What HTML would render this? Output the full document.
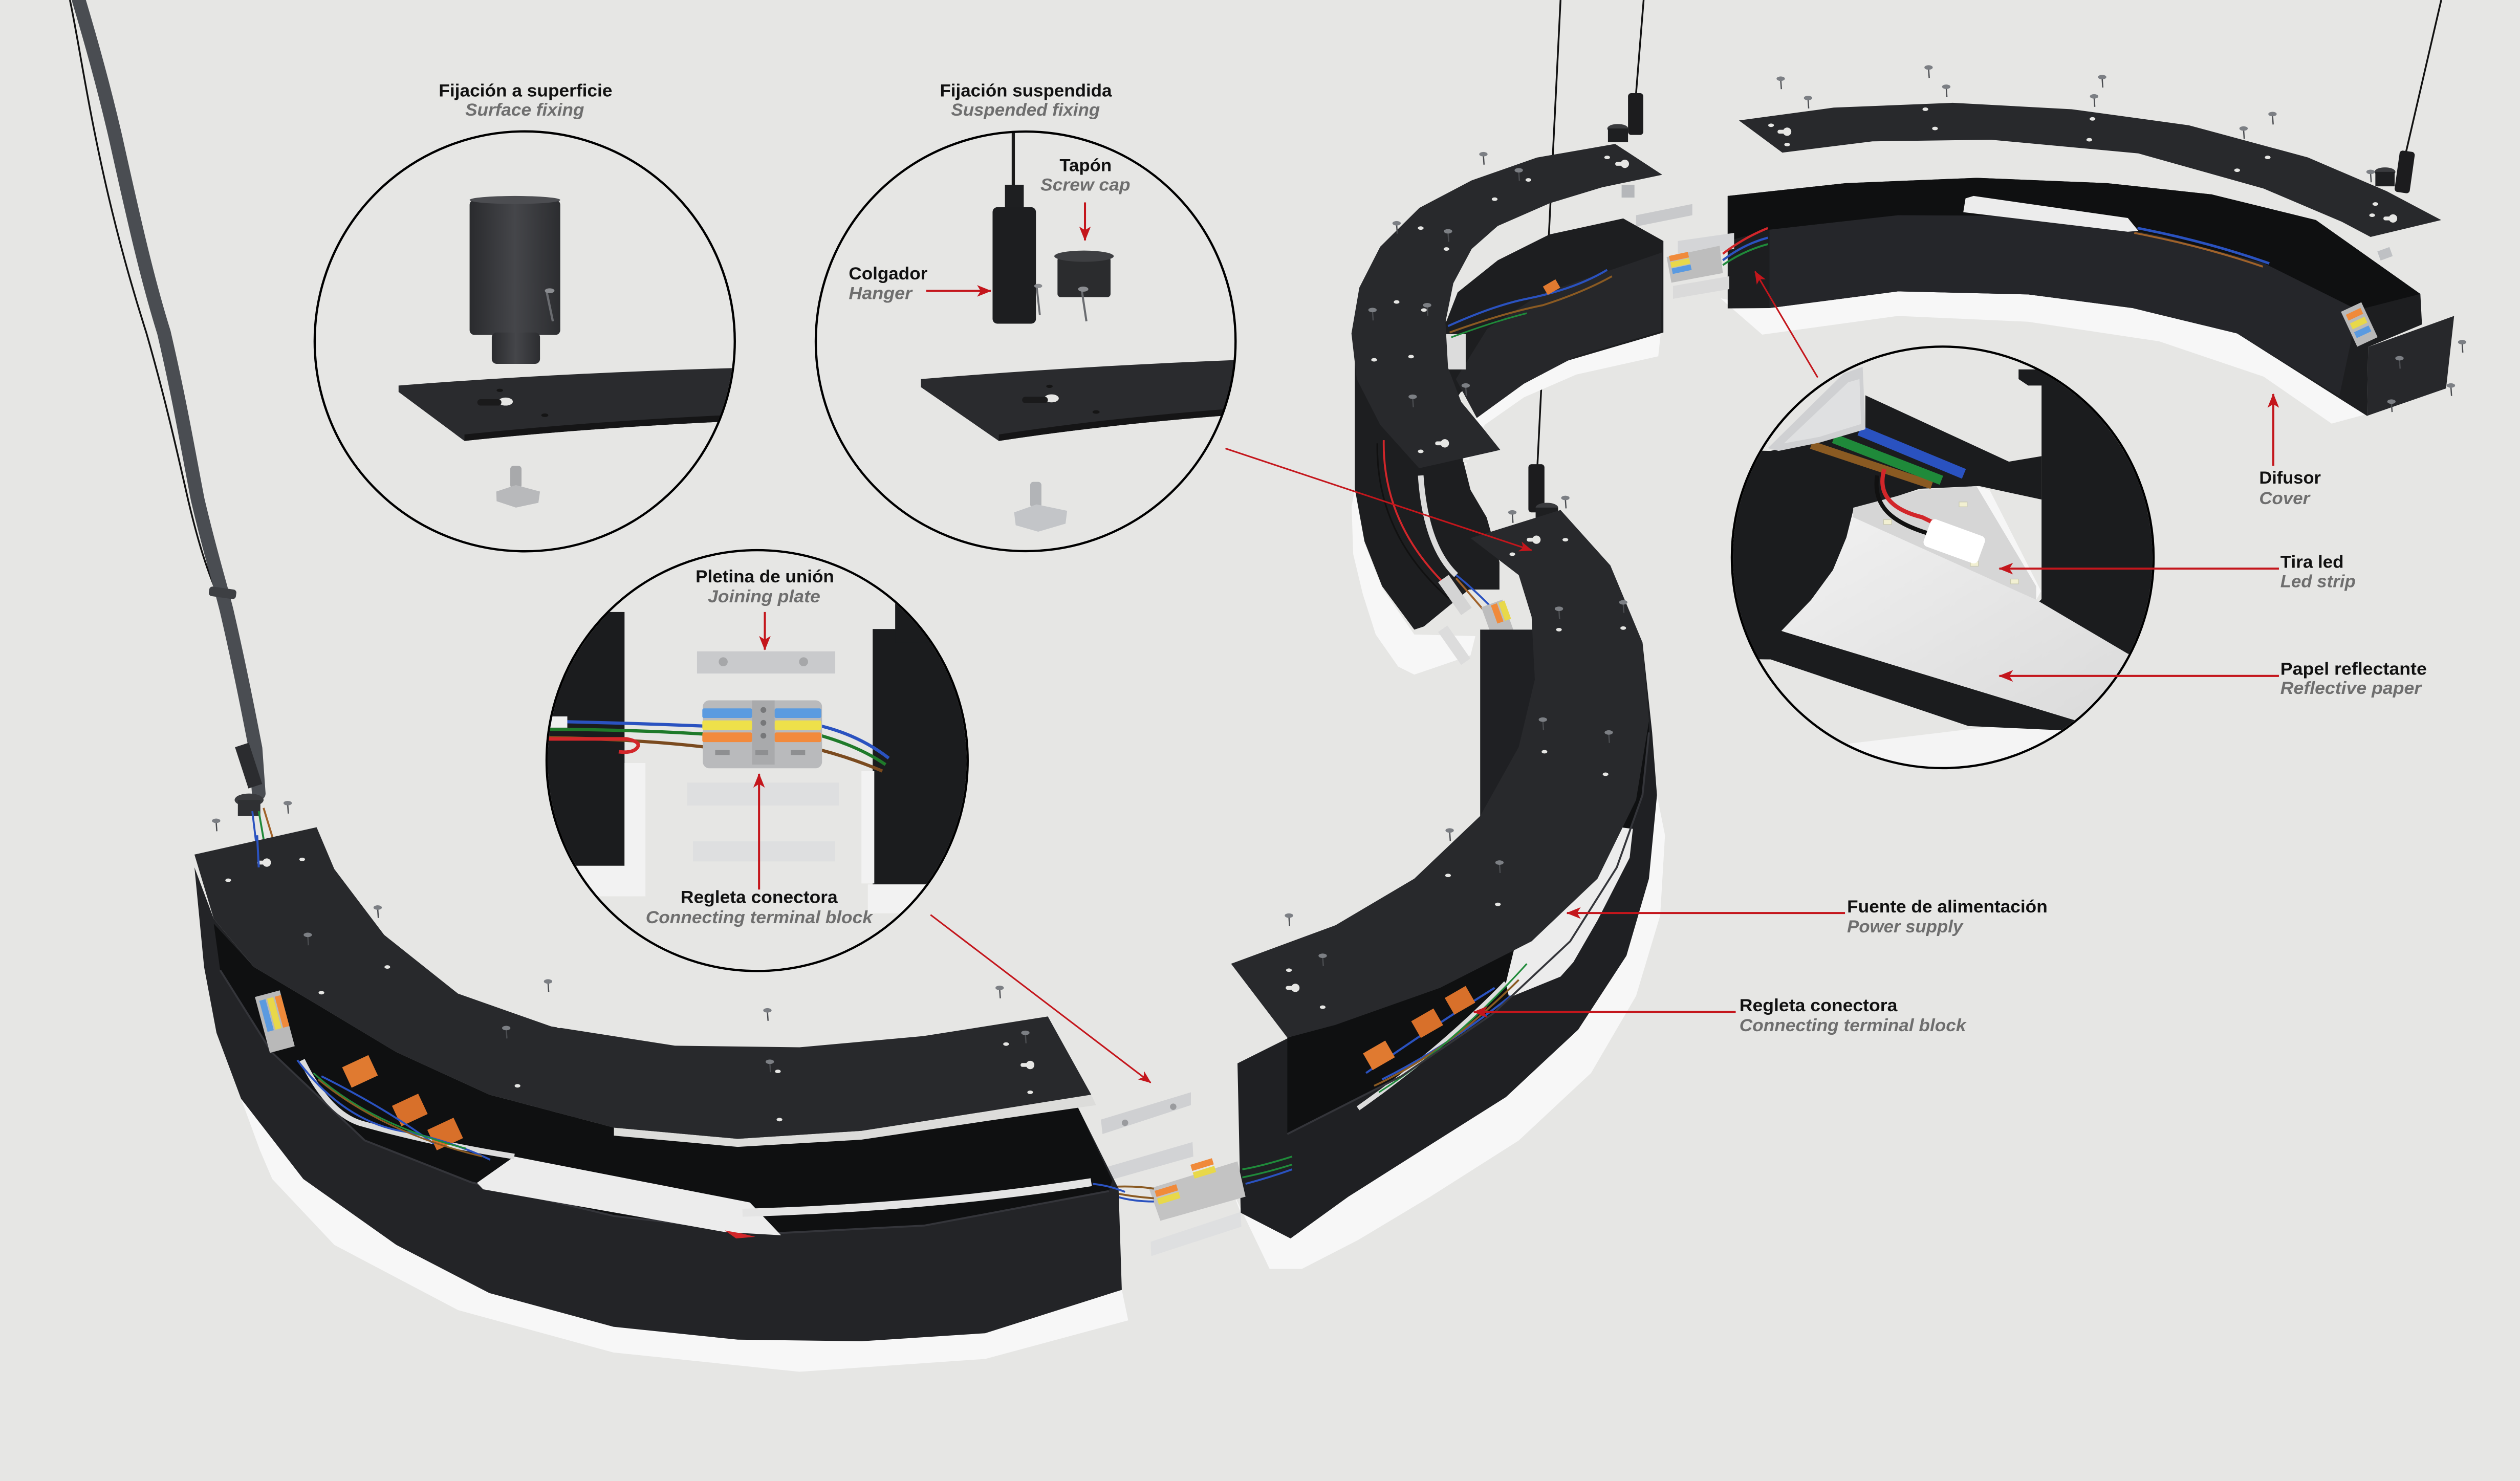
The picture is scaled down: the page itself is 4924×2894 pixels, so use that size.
<!DOCTYPE html>
<html><head><meta charset="utf-8">
<style>
html,body{margin:0;padding:0;background:#e6e6e4;}
svg{display:block;}
.b{font-family:"Liberation Sans",Arial,sans-serif;font-weight:bold;font-size:11px;fill:#111;}
.i{font-family:"Liberation Sans",Arial,sans-serif;font-weight:bold;font-style:italic;font-size:11px;fill:#6e6e6e;}
</style></head><body>
<svg width="4924" height="2894" viewBox="0 0 1568 922" preserveAspectRatio="none" xmlns="http://www.w3.org/2000/svg">
<defs>
 <marker id="ah" markerUnits="userSpaceOnUse" viewBox="0 0 10 8" refX="9.5" refY="4" markerWidth="9" markerHeight="7.2" orient="auto"><path d="M0,0 L10,4 L0,8 L2.5,4 Z" fill="#c4161c"/></marker>
 <marker id="ahs" markerUnits="userSpaceOnUse" viewBox="0 0 10 8" refX="9.5" refY="4" markerWidth="8" markerHeight="6.4" orient="auto"><path d="M0,0 L10,4 L0,8 L2.5,4 Z" fill="#c4161c"/></marker>
 <clipPath id="c1"><circle cx="326.5" cy="212.5" r="130"/></clipPath>
 <clipPath id="c2"><circle cx="638.2" cy="212.5" r="130"/></clipPath>
 <clipPath id="c3"><circle cx="471.1" cy="473.5" r="130.3"/></clipPath>
 <clipPath id="c4"><circle cx="1208.8" cy="347" r="130.5"/></clipPath>
 <g id="s"><line x1="0" y1="0.5" x2="0.4" y2="6.5" stroke="#4a4c50" stroke-width="0.8"/><ellipse cx="0" cy="0" rx="2.6" ry="1.4" fill="#7c7f84"/></g>
 <g id="h"><ellipse cx="0" cy="0" rx="1.8" ry="1.1" fill="#e6e6e4"/></g>
 <g id="k"><circle cx="0" cy="0" r="2.6" fill="#e6e6e4"/><rect x="-6" y="-1.2" width="6" height="2.4" rx="1.2" fill="#e6e6e4"/></g>
 <linearGradient id="cyl" x1="0" x2="1" y1="0" y2="0"><stop offset="0" stop-color="#2a2b2e"/><stop offset="0.5" stop-color="#45464a"/><stop offset="1" stop-color="#2c2d30"/></linearGradient>
 <linearGradient id="refl" x1="0" x2="1" y1="0" y2="1"><stop offset="0" stop-color="#f2f2f2"/><stop offset="0.6" stop-color="#e2e2e2"/><stop offset="1" stop-color="#d8d8d8"/></linearGradient>
</defs>
<rect x="0" y="0" width="1568" height="922" fill="#e6e6e4"/>

<!-- ===== left thick cable ===== -->
<path d="M43.5,0 C52,40 60,110 91,207 C102,245 110,280 117,311 C125,345 131,360 137,374" fill="none" stroke="#111" stroke-width="1.1"/>
<path d="M49,0 C58,30 66,60 72,86 C84,140 92,175 102,207 C112,250 117,280 123,311 C131,345 136,360 141,380 C148,410 154,440 159,466 L161,494" fill="none" stroke="#4a4d52" stroke-width="8.5" stroke-linecap="round"/>
<rect x="130" y="366" width="17" height="6" rx="2" fill="#3d3f43" transform="rotate(8 138 369)"/>
<rect x="150" y="463" width="9" height="27" fill="#2b2c2f" transform="rotate(-18 155 476)"/>
<ellipse cx="155" cy="498" rx="9" ry="4" fill="#3a3b3e"/>
<rect x="148" y="498" width="14" height="10" fill="#2f3033"/>
<path d="M157,505 L160,530" stroke="#2a52c0" stroke-width="1.2" fill="none"/>
<path d="M161,505 L165,528" stroke="#1f8a3a" stroke-width="1.2" fill="none"/>
<path d="M164,503 L171,526" stroke="#a0622a" stroke-width="1.2" fill="none"/>

<!-- ===== suspension cables ===== -->
<line x1="971" y1="0" x2="956.5" y2="292" stroke="#111" stroke-width="1.1"/>
<rect x="951" y="289" width="10" height="30" rx="2" fill="#1c1c1e"/>
<ellipse cx="962.5" cy="316" rx="7" ry="3" fill="#3a3b3e"/><rect x="955.5" y="316" width="14" height="8" fill="#1e1f21"/>
<line x1="1022.7" y1="0" x2="1018" y2="58" stroke="#111" stroke-width="1.1"/>
<rect x="1013" y="58" width="9.5" height="26" rx="2" fill="#1c1c1e"/>
<ellipse cx="1006.6" cy="80" rx="6.5" ry="2.8" fill="#3a3b3e"/><rect x="1000.5" y="80" width="12.5" height="8.5" fill="#1e1f21"/>
<line x1="1519" y1="0" x2="1497" y2="95" stroke="#111" stroke-width="1.1"/>
<rect x="1491.5" y="94" width="9.5" height="26" rx="2" fill="#1c1c1e" transform="rotate(8 1496 107)"/>
<ellipse cx="1484" cy="107" rx="6.5" ry="2.8" fill="#3a3b3e"/><rect x="1478" y="107" width="12" height="9" fill="#1e1f21"/>

<!-- ===== upper-right assembly ===== -->
<path d="M1070.5,185.7 L1096.5,208.3 L1181,196.7 L1262,200.3 L1343.5,212.5 L1408.5,234.5 L1450.8,263.7 L1473.5,257.6 L1454,247 L1392,207.6 L1327,191.8 L1262,183.3 L1181,181.4 L1101,191.8 Z" fill="#f7f7f7"/>
<path d="M1075,122 L1148.5,114 L1230,110.7 L1311,114 L1376,121 L1441,137 L1506,183 L1507,202 L1473.5,216 L1473,259 L1454,247 L1392,207.6 L1327,191.8 L1262,183.3 L1181,181.4 L1101,191.8 L1075,192 Z" fill="#1d1e20"/>
<path d="M1075,122 L1148.5,114 L1230,110.7 L1311,114 L1376,121 L1441,137 L1506,183 L1467,193 L1408.5,164 L1343.5,147 L1278.5,134.5 L1181,134 L1101,143 L1075,150 Z" fill="#0f1011"/>
<path d="M1101,143 L1181,134 L1278.5,134.5 L1343.5,146.7 L1408.5,163.8 L1467,193 L1455.6,246.7 L1392,207.6 L1327,191.8 L1262,183.3 L1181,181.4 L1101,191.8 Z" fill="#25262a"/>
<path d="M1223,123.5 L1228,122 L1324,135.7 L1330.5,143.7 L1324,144.3 L1221.6,132.1 Z" fill="#ececec"/>
<path d="M1330,142 Q1372,150 1412,164" stroke="#2a52c0" stroke-width="1.6" fill="none"/>
<path d="M1328,145 Q1370,153 1408,166" stroke="#a0622a" stroke-width="1.2" fill="none"/>
<rect x="1461" y="190" width="14" height="24" fill="#b9b9b9" transform="rotate(-25 1468 202)"/>
<rect x="1463" y="193" width="10" height="4" fill="#f08a3a" transform="rotate(-25 1468 202)"/>
<rect x="1463" y="199" width="10" height="4" fill="#e8d84a" transform="rotate(-25 1468 202)"/>
<rect x="1463" y="205" width="10" height="4" fill="#5a9ae0" transform="rotate(-25 1468 202)"/>
<path d="M1473.5,216 L1527,196.7 L1522,241.8 L1473,258.8 Z" fill="#27282b"/>
<use href="#s" x="1532" y="213"/><use href="#s" x="1493" y="223"/><use href="#s" x="1525" y="240"/><use href="#s" x="1488" y="250"/>
<!-- Difusor cover plate -->
<path d="M1082,75 L1141,67 L1215,64 L1289,68 L1362,78 L1436,98 L1485,119 L1519,137 L1475,147.5 L1457,138 L1408.5,117.4 L1330.5,95.5 L1239,87 L1165,88 L1109,95 Z" fill="#28292c"/>
<use href="#k" x="1112" y="82"/><use href="#k" x="1489" y="136"/>
<use href="#h" x="1102" y="78"/><use href="#h" x="1112" y="90"/><use href="#h" x="1198" y="68"/><use href="#h" x="1204" y="80"/><use href="#h" x="1302" y="74"/><use href="#h" x="1300" y="87"/><use href="#h" x="1411" y="98"/><use href="#h" x="1392" y="106"/><use href="#h" x="1478" y="127"/><use href="#h" x="1476" y="134"/>
<use href="#s" x="1108" y="49"/><use href="#s" x="1125" y="61"/><use href="#s" x="1200" y="42"/><use href="#s" x="1211" y="54"/><use href="#s" x="1308" y="48"/><use href="#s" x="1303" y="60"/><use href="#s" x="1414" y="71"/><use href="#s" x="1396" y="80"/><use href="#s" x="1475" y="107"/>
<rect x="1480" y="155" width="8" height="6" fill="#bfc1c4" transform="rotate(-20 1484 158)"/>

<!-- upper gap connector -->
<rect x="1009" y="115" width="8" height="8" fill="#b5b7ba"/>
<path d="M1018,134 L1053,127 L1053,134 L1018,141 Z" fill="#c8c9cb"/>
<path d="M1044,150 L1079,145 L1079,155 L1044,160 Z" fill="#d4d5d7"/>
<path d="M1037,160 L1070,153 L1072,170 L1040,176 Z" fill="#bdbdbd"/>
<rect x="1040" y="156" width="12" height="3.5" fill="#f08a3a" transform="rotate(-12 1055 165)"/>
<rect x="1040" y="160" width="12" height="3.5" fill="#e8d84a" transform="rotate(-12 1055 165)"/>
<rect x="1040" y="164" width="12" height="3.5" fill="#5a9ae0" transform="rotate(-12 1055 165)"/>
<path d="M1041,178 L1076,172 L1076,180 L1041,186 Z" fill="#dadada"/>
<path d="M1072,162 Q1085,152 1100,148" stroke="#2a52c0" stroke-width="1.4" fill="none"/>
<path d="M1072,158 Q1085,148 1100,142" stroke="#d2262a" stroke-width="1.4" fill="none"/>
<path d="M1072,165 Q1085,156 1100,152" stroke="#1f8a3a" stroke-width="1.2" fill="none"/>

<!-- ===== upper-left arc body (S top) ===== -->
<path d="M1033.5,206 L980.7,221.8 L948.2,238.9 L918.9,260.2 L904,264 L912,290 L923.8,264.5 L948.2,247.4 L980.7,233.2 L1031.8,221.8 Z" fill="#f7f7f7"/>
<path d="M841,315 L842,345 L848,370 L856,395 L870,415 L880,420 L915,408 L918,396 L880,395 L860,366 L849,338 L843,305 Z" fill="#f7f7f7"/>
<path d="M843,210 L843,304 L849,337 L860,365 L880,392 L886,390 L914,367 L933,367 L933,350 L925,322 L915,305 L910,285 L905,250 L909,244 L1035,207 L1035,150 L1010,136 L964,146 L932,162 L907,182 L900,200 Z" fill="#1d1e20"/>
<path d="M905.9,236 L918.9,260.2 L948.2,238.9 L980.7,221.8 L1033.5,206.2 L1034.3,157.1 L957.9,183.4 L925.4,204.7 Z" fill="#26272a"/>
<rect x="899" y="208" width="13" height="22" fill="#dcdcdc"/>
<path d="M884,296 Q887,340 906,358" stroke="#dcdcdc" stroke-width="3.5" fill="none"/>
<path d="M861,274 Q860,330 907,371" stroke="#d2262a" stroke-width="1.2" fill="none"/>
<path d="M857,276 Q856,333 902,373" stroke="#111" stroke-width="1" fill="none"/>
<path d="M906,358 Q915,365 928,378" stroke="#2a52c0" stroke-width="1.2" fill="none"/>
<path d="M906,360 Q913,368 925,382" stroke="#a0622a" stroke-width="1.2" fill="none"/>
<path d="M901,203 Q930,190 950,186 Q980,180 1000,168" stroke="#2a52c0" stroke-width="1.3" fill="none"/>
<path d="M902,207 Q935,195 960,190 Q985,182 1003,172" stroke="#8a5a22" stroke-width="1.2" fill="none"/>
<path d="M903,210 Q930,200 950,195" stroke="#1f8a3a" stroke-width="1" fill="none"/>
<rect x="961" y="176" width="9" height="6" fill="#e07a30" transform="rotate(-30 965 179)"/>
<!-- joining plates in S middle -->
<rect x="893" y="366" width="25" height="8" fill="#d4d4d4" transform="rotate(55 905 370)"/>
<rect x="893" y="398" width="25" height="7" fill="#dcdcdc" transform="rotate(55 905 401)"/>
<rect x="925" y="375" width="14" height="22" fill="#bdbdbd" transform="rotate(-20 932 386)"/>
<rect x="931" y="376" width="4" height="12" fill="#f08a3a" transform="rotate(-20 932 386)"/>
<rect x="936" y="376" width="4" height="12" fill="#e8d84a" transform="rotate(-20 932 386)"/>
<!-- upper-left plate -->
<path d="M1005,89.6 L1034.3,108.8 L996.9,116.6 L964.4,126.5 L931.9,140.7 L915.7,155 L904.3,176.3 L899.4,200.5 L901,228.9 L909.2,250.2 L922.2,265.9 L933.5,280.1 L883,291.5 L858.8,264.5 L844.2,236 L840.9,207.6 L845.8,179.1 L858.8,153.6 L883.2,129.4 L915.7,112.3 L956.3,98.1 Z" fill="#28292c"/>
<use href="#k" x="1011" y="102"/><use href="#k" x="899" y="276"/>
<use href="#h" x="1000" y="98"/><use href="#h" x="951" y="112"/><use href="#h" x="930" y="124"/><use href="#h" x="884" y="142"/><use href="#h" x="900" y="155"/><use href="#h" x="869" y="188"/><use href="#h" x="886" y="193"/><use href="#h" x="855" y="224"/><use href="#h" x="878" y="222"/><use href="#h" x="884" y="281"/><use href="#h" x="912" y="287"/>
<use href="#s" x="923" y="96"/><use href="#s" x="945" y="106"/><use href="#s" x="869" y="139"/><use href="#s" x="901" y="144"/><use href="#s" x="854" y="193"/><use href="#s" x="888" y="190"/><use href="#s" x="879" y="247"/><use href="#s" x="912" y="240"/>

<!-- ===== middle lower assembly ===== -->
<path d="M803,771 L839,745 L880,719 L937,683 L982,641 L1012,595 L1026,547 L1031,495 L1036,520 L1033,570 L1018,620 L990,668 L945,710 L890,745 L845,772 L810,790 L790,790 L767,742 L772,755 Z" fill="#f7f7f7"/>
<path d="M921,392 L1000,392 L1022,400 L1028,456 L1031,495 L1026,547 L1012,595 L982,641 L937,683 L880,719 L839,745 L803,771 L772,755 L770,662 L830,632 L880,600 L915,560 L921,520 Z" fill="#1f2023"/>
<path d="M801,646 L831,638 L896,615 L953,586 L994,547 L1018,498 L1026,449 L1026,456 L1022,495 L1006,540 L977,586 L929,631 L872,670 L801,706 Z" fill="#0f1011"/>
<path d="M1000,514 L1016,516 L1014,534 L994,573 L979,599 L971,608 L939,621 L937,612 L945,579 L965,566 L990,534 Z" fill="#ececec"/>
<path d="M845,690 Q895,655 937,612" stroke="#dcdcdc" stroke-width="3" fill="none"/>
<path d="M850,668 Q890,640 930,615 M860,672 Q900,652 940,620" stroke="#2a52c0" stroke-width="1.3" fill="none"/>
<path d="M855,676 Q900,655 945,610" stroke="#8a5a22" stroke-width="1.2" fill="none"/>
<path d="M858,680 Q905,650 950,600" stroke="#1f8a3a" stroke-width="1" fill="none"/>
<rect x="850" y="651" width="16" height="12" fill="#e07a30" transform="rotate(-30 858 657)"/>
<rect x="880" y="631" width="16" height="12" fill="#d8702a" transform="rotate(-30 888 637)"/>
<rect x="901" y="617" width="15" height="12" fill="#d8702a" transform="rotate(-30 908 623)"/>
<path d="M801,706 L872,670 L929,631 L977,586 L1006,540 L1022,495 L1026,456" stroke="#34353a" stroke-width="1.2" fill="none"/>
<!-- middle lower plate -->
<path d="M915,335 L971,317.5 L1002,352 L1022,400 L1026,449 L1018,498 L994,547 L953,586 L896,615 L831,638 L801,646 L766,600 L831,576 L880,547 L921,508 L945,465 L955,423 L953,384 L945,358 Z" fill="#28292c"/>
<use href="#k" x="956" y="336"/><use href="#k" x="806" y="615"/>
<use href="#h" x="941" y="345"/><use href="#h" x="974" y="336"/><use href="#h" x="970" y="392"/><use href="#h" x="1010" y="391"/><use href="#h" x="961" y="468"/><use href="#h" x="999" y="482"/><use href="#h" x="901" y="545"/><use href="#h" x="932" y="563"/><use href="#h" x="802" y="604"/><use href="#h" x="823" y="627"/>
<use href="#s" x="941" y="319"/><use href="#s" x="974" y="310"/><use href="#s" x="970" y="379"/><use href="#s" x="1010" y="375"/><use href="#s" x="960" y="448"/><use href="#s" x="1001" y="456"/><use href="#s" x="902" y="517"/><use href="#s" x="933" y="537"/><use href="#s" x="802" y="570"/><use href="#s" x="823" y="595"/>

<!-- bottom middle connector -->
<path d="M685,697 L741,680 L741,688 L686,706 Z" fill="#cfd0d2"/>
<circle cx="700" cy="699" r="2" fill="#9a9b9e"/><circle cx="730" cy="689" r="2" fill="#9a9b9e"/>
<path d="M687,727 L742,711 L742.5,720 L687.6,735.6 Z" fill="#d2d3d5"/>
<path d="M715,740 L770,723 L775,745 L722,760 Z" fill="#c3c3c3"/>
<rect x="719" y="735" width="14" height="4" fill="#f08a3a" transform="rotate(-17 740 740)"/>
<rect x="719" y="740" width="14" height="4" fill="#e8d84a" transform="rotate(-17 740 740)"/>
<rect x="745" y="726" width="14" height="4" fill="#f08a3a" transform="rotate(-17 740 740)"/>
<rect x="745" y="731" width="14" height="4" fill="#e8d84a" transform="rotate(-17 740 740)"/>
<path d="M716,773 L772,754.5 L772.4,763.7 L716.3,782 Z" fill="#dedfe0"/>
<path d="M690,739 Q705,738 718,740 M695,743 Q705,745 718,746" stroke="#8a5a22" stroke-width="1.2" fill="none"/>
<path d="M695,745 Q705,748 718,748" stroke="#2a52c0" stroke-width="1.2" fill="none"/>
<path d="M773,728 Q785,726 804,720 M773,733 Q788,730 804,725" stroke="#1f8a3a" stroke-width="1.1" fill="none"/>
<path d="M775,737 Q790,733 804,728" stroke="#2a52c0" stroke-width="1.2" fill="none"/>

<!-- ===== bottom-left assembly ===== -->
<path d="M150,684 L161.7,716 L169.4,734 L208,775 L285,815.6 L381.7,842 L497.5,854 L613,846 L702,822 L698,803 L613,830 L536,835 L459,834 L381.7,826 L304.5,805 L246.6,775 L188.7,734 Z" fill="#f7f7f7"/>
<path d="M121,540 L127,602 L134.7,643 L150,684 L188.7,734 L246.6,775 L304.5,805 L381.7,826 L459,834 L536,835 L613,830 L698,803 L696,740 L670,688 L613,692 L536,704 L459,709 L382,702 L304.5,681.5 L246.6,655 L200,627 L158,602 L133,572 Z" fill="#232427"/>
<path d="M133,575 L137,604 L169,655 L227,710 L293,736 L382,757 L478,768 L575,763 L690,741.5 L692,735 L670,688 L613,692 L536,704 L459,709 L382,702 L304.5,681.5 L246.6,655 L200,627 L158,602 Z" fill="#0f1011"/>
<path d="M137,604 L169,655 L227,710 L293,736 L382,757 L478,768 L575,763 L690,741.5" stroke="#34353a" stroke-width="1.2" fill="none"/>
<path d="M296.8,736.4 L320,720 L466.6,748.6 L486,769 L451,767 L300.6,740.4 Z" fill="#ececec"/>
<path d="M451,766 L462,768 L470,770 L458,771 Z" fill="#d2262a"/>
<path d="M462,755 Q575,752 679,736" stroke="#e4e4e4" stroke-width="5" fill="none"/>
<path d="M188,660 Q205,695 227,700 Q270,712 320,720" stroke="#dcdcdc" stroke-width="3.5" fill="none"/>
<rect x="163" y="618" width="16" height="36" fill="#b9b9b9" transform="rotate(-15 171 636)"/>
<rect x="165" y="621" width="4" height="20" fill="#5a9ae0" transform="rotate(-15 171 636)"/>
<rect x="170" y="621" width="4" height="20" fill="#e8d84a" transform="rotate(-15 171 636)"/>
<rect x="175" y="621" width="4" height="20" fill="#f08a3a" transform="rotate(-15 171 636)"/>
<rect x="215" y="660" width="18" height="14" fill="#e07a30" transform="rotate(-25 224 667)"/>
<rect x="246" y="684" width="18" height="14" fill="#d8702a" transform="rotate(-25 255 691)"/>
<rect x="268" y="699" width="18" height="14" fill="#d8702a" transform="rotate(-25 277 706)"/>
<path d="M185,660 Q215,700 255,705 Q285,712 305,722 M200,670 Q240,690 270,712" stroke="#2a52c0" stroke-width="1.2" fill="none"/>
<path d="M195,668 Q230,700 290,715" stroke="#1f8a3a" stroke-width="1" fill="none"/>
<path d="M198,672 Q238,705 300,720" stroke="#8a5a22" stroke-width="1" fill="none"/>
<path d="M680,737 Q690,738 700,742" stroke="#2a52c0" stroke-width="1.2" fill="none"/>
<!-- gap below plate -->
<path d="M382,702 L459,709 L536,704 L613,692 L679,681.5 L682,688 L613,698 L536,709.5 L459,714 L382,707 Z" fill="#dcdcda"/>
<!-- bottom-left plate -->
<path d="M121,532 L197,515 L208,541 L239,582 L285,618.6 L343,639 L420,651 L497.5,652 L574.7,645 L652,632.8 L679,681.5 L613,692 L536,704 L459,709 L382,702 L304.5,681.5 L246.6,655 L200,627 L158,602 L133,572 Z" fill="#28292c"/>
<use href="#k" x="166" y="537"/><use href="#k" x="641" y="663"/>
<use href="#h" x="142" y="548"/><use href="#h" x="188" y="535"/><use href="#h" x="241" y="602"/><use href="#h" x="200" y="618"/><use href="#h" x="348" y="639"/><use href="#h" x="322" y="676"/><use href="#h" x="484" y="667"/><use href="#h" x="485" y="697"/><use href="#h" x="626" y="650"/><use href="#h" x="641" y="680"/>
<use href="#s" x="134.5" y="511"/><use href="#s" x="179" y="500"/><use href="#s" x="235" y="565"/><use href="#s" x="191.5" y="582"/><use href="#s" x="341" y="611"/><use href="#s" x="315" y="640"/><use href="#s" x="477.5" y="629"/><use href="#s" x="479" y="661"/><use href="#s" x="622" y="615"/><use href="#s" x="638" y="643"/>
<path d="M160,520 L161,540" stroke="#2a52c0" stroke-width="1.3"/>

<!-- ===== circle 1: surface fixing ===== -->
<g clip-path="url(#c1)">
 <path d="M248,240 Q350,232 462,229 L462,262 Q370,266 289,274.5 L248,244 Z" fill="#2a2b2e"/>
 <path d="M289,270.5 Q370,262 462,258 L462,262 Q370,266 289,274.5 Z" fill="#151516"/>
</g>
<ellipse cx="314.6" cy="250" rx="4.5" ry="2.5" fill="#e6e6e4"/>
<rect x="297" y="248.5" width="15" height="4" rx="2" fill="#1a1a1b"/>
<ellipse cx="311" cy="243" rx="2" ry="1" fill="#151515"/><ellipse cx="339" cy="258.5" rx="2.2" ry="1.1" fill="#151515"/>
<rect x="292.2" y="124.5" width="56.4" height="84" rx="3" fill="url(#cyl)"/>
<ellipse cx="320.4" cy="124.5" rx="28.2" ry="2.5" fill="#4c4d51"/>
<rect x="306" y="207" width="30" height="19.5" rx="3" fill="url(#cyl)"/>
<path d="M340,181 L344,200" stroke="#6a6c70" stroke-width="1.4"/><ellipse cx="342" cy="181" rx="3" ry="1.5" fill="#8a8c90"/>
<rect x="317.5" y="290" width="7" height="14" rx="2" fill="#a8a9ab"/>
<path d="M308.8,306 L321,302 L336,306 L335,313 L321,316 L309,312 Z" fill="#b8b9bb"/>

<!-- ===== circle 2: suspended fixing ===== -->
<g clip-path="url(#c2)">
 <path d="M573,236 Q670,228 772,224 L772,258 Q690,264 621.5,274.5 L573,241 Z" fill="#2a2b2e"/>
 <path d="M621.5,270.5 Q690,260 772,254 L772,258 Q690,264 621.5,274.5 Z" fill="#151516"/>
 <line x1="630.5" y1="80" x2="630.5" y2="116" stroke="#1a1a1a" stroke-width="2"/>
</g>
<ellipse cx="654.3" cy="248" rx="4.5" ry="2.5" fill="#e6e6e4"/>
<rect x="636" y="247" width="16" height="4" rx="2" fill="#1a1a1b"/>
<ellipse cx="653" cy="240.5" rx="2" ry="1" fill="#151515"/><ellipse cx="682" cy="256.5" rx="2.2" ry="1.1" fill="#151515"/>
<rect x="625.3" y="115" width="11.7" height="15" fill="#1e1f21"/>
<rect x="617.6" y="129" width="27" height="72.5" rx="3" fill="#1d1e20"/>
<path d="M645,178 L647,196" stroke="#6a6c70" stroke-width="1.2"/><ellipse cx="646" cy="178" rx="2.5" ry="1.3" fill="#8a8c90"/>
<rect x="658" y="160" width="33" height="25" rx="2" fill="#2b2c2e"/>
<ellipse cx="674.5" cy="159.5" rx="18.5" ry="3.5" fill="#3e3f42"/>
<path d="M673,180 L676,200" stroke="#6a6c70" stroke-width="1.3"/><ellipse cx="674" cy="180" rx="3.2" ry="1.6" fill="#8a8c90"/>
<rect x="641" y="300" width="7" height="16" rx="2" fill="#b2b4b7"/>
<path d="M631,319 L645,314 L664,318 L663,326 L646,331 L632,327 Z" fill="#c3c5c8"/>

<!-- ===== circle 3: joining ===== -->
<g clip-path="url(#c3)">
 <rect x="330" y="381" width="58.6" height="158" fill="#1b1c1e"/>
 <rect x="388.6" y="475" width="13" height="83" fill="#f2f2f2"/>
 <rect x="350" y="539" width="44" height="19" fill="#f2f2f2"/>
 <rect x="543" y="391.6" width="70" height="159" fill="#1b1c1e"/>
 <rect x="557" y="370" width="56" height="30" fill="#1b1c1e"/>
 <rect x="536" y="480" width="8" height="70" fill="#f2f2f2"/>
 <rect x="540" y="550.6" width="36" height="18" fill="#f2f2f2"/>
 <path d="M335,449 Q390,450 438,452" stroke="#2a52c0" stroke-width="2" fill="none"/>
 <path d="M335,454 Q390,454 438,457" stroke="#1f7a2a" stroke-width="2" fill="none"/>
 <path d="M335,459 Q395,460 438,465" stroke="#7a4a1e" stroke-width="2" fill="none"/>
 <path d="M335,460 L390,460 Q400,462 396,466 Q393,469 385,468" stroke="#d2262a" stroke-width="2.2" fill="none"/>
 <rect x="341" y="446" width="12" height="7" fill="#f0f0f0"/>
 <path d="M511,452 Q535,458 553,472" stroke="#2a52c0" stroke-width="2" fill="none"/>
 <path d="M511,458 Q535,465 551,476" stroke="#1f7a2a" stroke-width="2" fill="none"/>
 <path d="M511,467 Q530,472 549,480" stroke="#7a4a1e" stroke-width="2" fill="none"/>
</g>
<rect x="433.7" y="405.5" width="86" height="13.8" fill="#c9cacc"/>
<circle cx="450" cy="412" r="2.8" fill="#a6a7a9"/><circle cx="500" cy="412" r="2.8" fill="#a6a7a9"/>
<rect x="437.3" y="436" width="74.2" height="42.3" rx="4" fill="#b9babc"/>
<rect x="437" y="441" width="31" height="6" rx="1" fill="#5b9be0"/><rect x="482" y="441" width="29" height="6" rx="1" fill="#5b9be0"/>
<rect x="437" y="448.5" width="31" height="6" rx="1" fill="#eee04a"/><rect x="482" y="448.5" width="29" height="6" rx="1" fill="#eee04a"/>
<rect x="437" y="456" width="31" height="6" rx="1" fill="#f28a3c"/><rect x="482" y="456" width="29" height="6" rx="1" fill="#f28a3c"/>
<rect x="468" y="436" width="14" height="40" fill="#a9aaac"/>
<circle cx="475" cy="442" r="1.8" fill="#77787a"/><circle cx="475" cy="450" r="1.8" fill="#77787a"/><circle cx="475" cy="458" r="1.8" fill="#77787a"/>
<rect x="445" y="467" width="9" height="3" fill="#8e8f91"/><rect x="470" y="467" width="8" height="3" fill="#8e8f91"/><rect x="492" y="467" width="9" height="3" fill="#8e8f91"/>
<rect x="427.6" y="487.2" width="94.4" height="14.3" fill="#dedfe0"/>
<rect x="431.2" y="523.8" width="88.4" height="12.5" fill="#dedfe0"/>

<!-- ===== circle 4: led strip detail ===== -->
<g clip-path="url(#c4)">
 <path d="M1150,463 L1267,449 L1300,452 L1300,480 L1150,480 Z" fill="#f4f4f4"/>
 <path d="M1256,230 L1350,230 L1350,412 L1324,407 L1265,378.5 L1270.3,373 L1270.3,240 L1262,240 L1256,236 Z" fill="#1b1c1e"/>
 <path d="M1101.7,280.7 L1160.7,267.2 L1160.7,246.1 L1250,287.4 L1270.3,284 L1270.3,311 L1231.5,302.6 L1194.4,304.3 L1153.1,317.8 L1148.9,334.6 L1140.5,354.9 L1127,373.4 L1110,393.6 L1101.7,410.5 L1070,410 L1070,280 Z" fill="#1b1c1e"/>
 <path d="M1108.4,392.8 L1294,449.3 L1290,455 L1224.8,452 L1101.7,410.5 L1070,410 L1070,392 Z" fill="#1b1c1e"/>
 <path d="M1108.4,392.8 L1127,373.4 L1140.5,354.9 L1148.9,334.6 L1153.1,317.8 L1153.1,322 L1267,373.4 L1324.2,407.1 L1350,420 L1350,460 L1294,449.3 Z" fill="url(#refl)"/>
 <path d="M1127,277 L1202,302" stroke="#8a5a22" stroke-width="5" fill="none"/>
 <path d="M1141,273 L1208,299" stroke="#1f8a3a" stroke-width="6" fill="none"/>
 <path d="M1157,268 L1222,295" stroke="#2a52c0" stroke-width="6.5" fill="none"/>
 <path d="M1153.1,316.1 L1194.4,305.1 L1229.8,302.6 L1267,365 L1267,373.4 L1153.1,322 Z" fill="#d6d6d6"/>
 <path d="M1229.8,302.6 L1238,305 L1270,368 L1267,373.4 L1267,365 Z" fill="#f6f6f6"/>
 <rect x="1172" y="323.5" width="5" height="3" fill="#f2f0d2" stroke="#c9c9b0" stroke-width="0.4"/>
 <rect x="1219" y="312.5" width="5" height="3" fill="#f2f0d2" stroke="#c9c9b0" stroke-width="0.4"/>
 <rect x="1226" y="349.5" width="5" height="3" fill="#f2f0d2" stroke="#c9c9b0" stroke-width="0.4"/>
 <rect x="1251" y="360.5" width="5" height="3" fill="#f2f0d2" stroke="#c9c9b0" stroke-width="0.4"/>
 <path d="M1168,296 C1165,316 1178,326 1203,333" stroke="#111" stroke-width="2.6" fill="none"/>
 <path d="M1172.5,292 C1168,307 1176,317 1196,322 L1214.7,331" stroke="#d2262a" stroke-width="2.6" fill="none"/>
 <rect x="1198" y="328" width="36" height="18" rx="3" fill="#ffffff" transform="rotate(20 1216 337)"/>
 <path d="M1100,279 L1147,232.6 L1159,228.4 L1160.7,267.2 L1132,275.6 L1106.7,280.7 Z" fill="#cfd0d2"/>
 <path d="M1110,276 L1150,238 L1157,236 L1158,264 L1132,272 Z" fill="#dfe0e1"/>
</g>

<!-- ===== circles outlines ===== -->
<g fill="none" stroke="#000" stroke-width="1.4">
 <circle cx="326.5" cy="212.5" r="130.7"/>
 <circle cx="638.2" cy="212.5" r="130.6"/>
 <circle cx="471.1" cy="473.5" r="131"/>
 <circle cx="1208.8" cy="347" r="131.2"/>
</g>

<!-- ===== red leader lines ===== -->
<g stroke="#c4161c" fill="none">
 <line x1="675.1" y1="126" x2="675.1" y2="149.6" stroke-width="1.3" marker-end="url(#ah)"/>
 <line x1="576.3" y1="181.1" x2="616.5" y2="181.1" stroke-width="1.3" marker-end="url(#ah)"/>
 <line x1="475.9" y1="381" x2="475.9" y2="404.5" stroke-width="1.3" marker-end="url(#ah)"/>
 <line x1="472.3" y1="553.8" x2="472.3" y2="481.8" stroke-width="1.3" marker-end="url(#ah)"/>
 <line x1="1414.5" y1="290" x2="1414.5" y2="245.3" stroke-width="1.3" marker-end="url(#ah)"/>
 <line x1="1418" y1="354" x2="1244" y2="354" stroke-width="1.3" marker-end="url(#ah)"/>
 <line x1="1418" y1="420.8" x2="1244" y2="420.8" stroke-width="1.3" marker-end="url(#ah)"/>
 <line x1="1148" y1="568.4" x2="975" y2="568.4" stroke-width="1.3" marker-end="url(#ah)"/>
 <line x1="1080" y1="630" x2="917" y2="630" stroke-width="1.3" marker-end="url(#ah)"/>
 <line x1="762.5" y1="279.2" x2="953" y2="342.6" stroke-width="1" marker-end="url(#ahs)"/>
 <line x1="579" y1="569.5" x2="716" y2="674" stroke-width="1" marker-end="url(#ahs)"/>
 <line x1="1131" y1="235" x2="1092" y2="169" stroke-width="1" marker-end="url(#ahs)"/>
</g>

<!-- ===== labels ===== -->
<text class="b" x="273" y="60" textLength="108" lengthAdjust="spacingAndGlyphs">Fijación a superficie</text>
<text class="i" x="289.5" y="72" textLength="74" lengthAdjust="spacingAndGlyphs">Surface fixing</text>
<text class="b" x="584.8" y="60" textLength="107" lengthAdjust="spacingAndGlyphs">Fijación suspendida</text>
<text class="i" x="591.8" y="72" textLength="92.6" lengthAdjust="spacingAndGlyphs">Suspended fixing</text>
<text class="b" x="659.3" y="106.5" textLength="32.4" lengthAdjust="spacingAndGlyphs">Tapón</text>
<text class="i" x="647.4" y="118.7" textLength="55.9" lengthAdjust="spacingAndGlyphs">Screw cap</text>
<text class="b" x="528.1" y="174" textLength="49" lengthAdjust="spacingAndGlyphs">Colgador</text>
<text class="i" x="528.1" y="186.2" textLength="39.4" lengthAdjust="spacingAndGlyphs">Hanger</text>
<text class="b" x="432.8" y="362.5" textLength="86.2" lengthAdjust="spacingAndGlyphs">Pletina de unión</text>
<text class="i" x="440.4" y="375" textLength="70" lengthAdjust="spacingAndGlyphs">Joining plate</text>
<text class="b" x="423.5" y="562.2" textLength="97.7" lengthAdjust="spacingAndGlyphs">Regleta conectora</text>
<text class="i" x="401.8" y="574.8" textLength="141.1" lengthAdjust="spacingAndGlyphs">Connecting terminal block</text>
<text class="b" x="1405.7" y="301" textLength="38.4" lengthAdjust="spacingAndGlyphs">Difusor</text>
<text class="i" x="1405.7" y="313.8" textLength="31.5" lengthAdjust="spacingAndGlyphs">Cover</text>
<text class="b" x="1418.9" y="353.5" textLength="39.4" lengthAdjust="spacingAndGlyphs">Tira led</text>
<text class="i" x="1418.9" y="365.6" textLength="46.8" lengthAdjust="spacingAndGlyphs">Led strip</text>
<text class="b" x="1418.9" y="420" textLength="91.1" lengthAdjust="spacingAndGlyphs">Papel reflectante</text>
<text class="i" x="1418.9" y="432" textLength="87.7" lengthAdjust="spacingAndGlyphs">Reflective paper</text>
<text class="b" x="1149.3" y="568" textLength="124.7" lengthAdjust="spacingAndGlyphs">Fuente de alimentación</text>
<text class="i" x="1149.3" y="580.5" textLength="72" lengthAdjust="spacingAndGlyphs">Power supply</text>
<text class="b" x="1082.3" y="629.5" textLength="98.3" lengthAdjust="spacingAndGlyphs">Regleta conectora</text>
<text class="i" x="1082.3" y="642" textLength="141" lengthAdjust="spacingAndGlyphs">Connecting terminal block</text>
</svg>
</body></html>
